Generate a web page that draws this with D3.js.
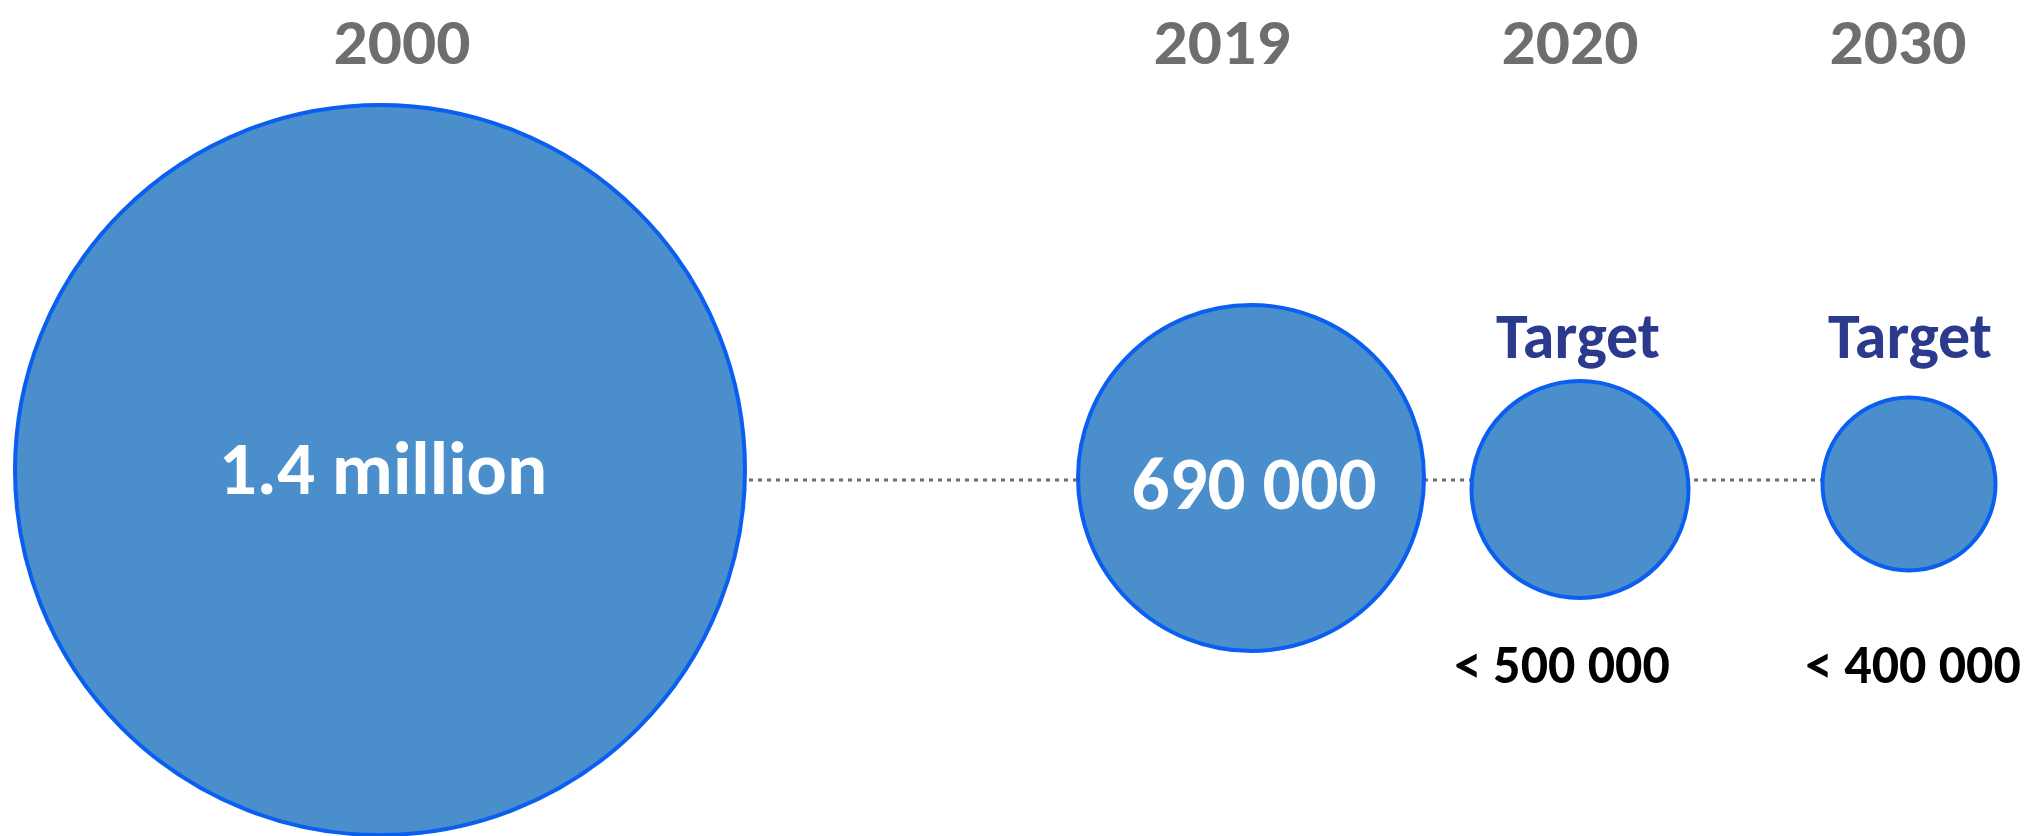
<!DOCTYPE html>
<html>
<head>
<meta charset="utf-8">
<script src="https://cdn.jsdelivr.net/npm/d3@7"></script>
<style>
  html, body { margin: 0; padding: 0; background: #fff; }
  svg { display: block; }
  text { font-family: Carlito, Lato, "Open Sans", sans-serif; font-weight: 700; }
</style>
</head>
<body>
<svg id="chart" width="2027" height="836"></svg>
<script>
// ---- data ----
const years = ["2000", "2019", "2020", "2030"];
const values = [1400000, 690000, 500000, 400000];
const valueLabels = ["1.4 million", "690 000", "< 500 000", "< 400 000"];
const isTarget = [false, false, true, true];

// ---- layout ----
const W = 2027, H = 836;
const svg = d3.select("#chart");

// horizontal placement of each year's bubble
const x = d3.scaleOrdinal().domain(years).range([380, 1251, 1580, 1909]);
// bubble radius from value
const r = d3.scaleLinear()
  .domain([400000, 500000, 690000, 1400000])
  .range([86.5, 108.5, 173, 365]);
// vertical centre: bubbles hang around the axis line
const axisY = 480;
const cyOffset = d3.scaleOrdinal().domain(years).range([-10, -2, 9.5, 4]);

const rows = years.map((y, i) => ({
  year: y, value: values[i], label: valueLabels[i], target: isTarget[i]
}));

// dotted connector
svg.append("line")
  .attr("x1", x(years[0])).attr("x2", x(years[years.length - 1]))
  .attr("y1", axisY).attr("y2", axisY)
  .attr("stroke", "#6f6f6f")
  .attr("stroke-width", 3)
  .attr("stroke-dasharray", "4,5");

// bubbles
svg.selectAll("circle.bubble")
  .data(rows)
  .join("circle")
  .attr("class", "bubble")
  .attr("cx", d => x(d.year))
  .attr("cy", d => axisY + cyOffset(d.year))
  .attr("r", d => r(d.value))
  .attr("fill", "#4a8ecb")
  .attr("stroke", "#0a5ff0")
  .attr("stroke-width", 4);

// year headers
const yearDx = d3.scaleOrdinal().domain(years).range([22, -29, -10, -11]);
svg.selectAll("text.year")
  .data(rows)
  .join("text")
  .attr("class", "year")
  .attr("x", d => x(d.year) + yearDx(d.year))
  .attr("y", 64)
  .attr("text-anchor", "middle")
  .attr("font-size", 64)
  .attr("textLength", 137)
  .attr("lengthAdjust", "spacingAndGlyphs")
  .attr("fill", "#6e6e6e")
  .text(d => d.year);

// values inside bubbles (actuals)
svg.selectAll("text.inner")
  .data(rows.filter(d => !d.target))
  .join("text")
  .attr("class", "inner")
  .attr("x", d => x(d.year) + 3)
  .attr("y", d => d.year === "2000" ? 494 : 509)
  .attr("text-anchor", "middle")
  .attr("font-size", 75)
  .attr("fill", "#ffffff")
  .text(d => d.label);

// "Target" labels above target bubbles
svg.selectAll("text.target")
  .data(rows.filter(d => d.target))
  .join("text")
  .attr("class", "target")
  .attr("x", d => x(d.year) + (d.year === "2020" ? -2 : 1))
  .attr("y", 358)
  .attr("text-anchor", "middle")
  .attr("font-size", 64)
  .attr("fill", "#2b3a8c")
  .text("Target");

// target values below bubbles
svg.selectAll("text.below")
  .data(rows.filter(d => d.target))
  .join("text")
  .attr("class", "below")
  .attr("x", d => x(d.year) + (d.year === "2020" ? -18 : 4))
  .attr("y", 683)
  .attr("text-anchor", "middle")
  .attr("font-size", 54)
  .attr("fill", "#000000")
  .text(d => d.label);
</script>
</body>
</html>
